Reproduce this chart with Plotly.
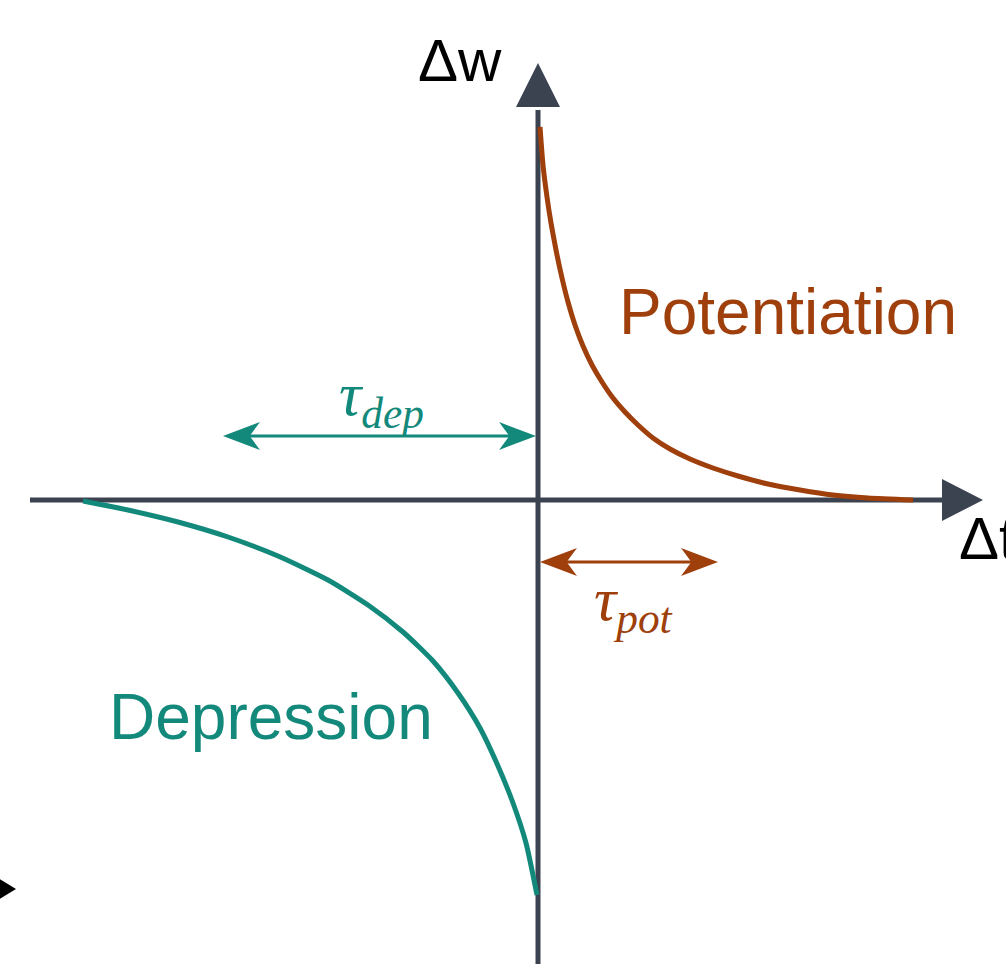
import plotly.graph_objects as go

# === STDP window (1 unit = 100 px, origin where the axes cross) ===
pot_t = [0.02, 0.05, 0.09, 0.13, 0.18, 0.24, 0.30, 0.37, 0.45, 0.54, 0.64, 0.75, 0.87, 1.00, 1.15, 1.32, 1.52, 1.75, 2.00, 2.30, 2.62, 2.95, 3.30, 3.75]
pot_w = [3.73, 3.35, 3.03, 2.77, 2.50, 2.22, 1.98, 1.75, 1.54, 1.35, 1.18, 1.02, 0.88, 0.75, 0.62, 0.51, 0.41, 0.32, 0.24, 0.16, 0.10, 0.05, 0.02, 0.00]

dep_t = [-4.55, -4.10, -3.60, -3.10, -2.60, -2.10, -1.70, -1.35, -1.05, -0.80, -0.58, -0.40, -0.25, -0.12, -0.01]
dep_w = [-0.01, -0.10, -0.22, -0.37, -0.56, -0.80, -1.05, -1.32, -1.61, -1.93, -2.28, -2.66, -3.03, -3.43, -3.95]

tau_dep = 3.15
tau_pot = 1.80

POT = "#9e3f0c"
DEP = "#13897b"
AXIS = "#3c4350"

X_RANGE = [-5.38, 4.68]
Y_RANGE = [-4.64, 5.0]


def head(x_tip, y, direction, color, L=0.37, h=0.14):
    # stealth-like arrow head pointing left (-1) or right (+1)
    b = x_tip - direction * L
    n = x_tip - direction * 0.72 * L
    return dict(type="path", xref="x", yref="y", line=dict(width=0), fillcolor=color,
                path=f"M {x_tip},{y} L {b},{y + h} L {n},{y} L {b},{y - h} Z")


fig = go.Figure()

fig.add_trace(go.Scatter(x=pot_t, y=pot_w, mode="lines", line=dict(color=POT, width=5, shape="spline", smoothing=0.6),
                         hoverinfo="skip"))
fig.add_trace(go.Scatter(x=dep_t, y=dep_w, mode="lines", line=dict(color=DEP, width=5, shape="spline", smoothing=0.6),
                         hoverinfo="skip"))

shapes = [
    # axes
    dict(type="line", xref="x", yref="y", x0=-5.08, y0=0, x1=4.1, y1=0, line=dict(color=AXIS, width=5), layer="below"),
    dict(type="line", xref="x", yref="y", x0=0, y0=Y_RANGE[0], x1=0, y1=3.9, line=dict(color=AXIS, width=5), layer="below"),
    dict(type="path", xref="x", yref="y", line=dict(width=0), fillcolor=AXIS,
         path="M 4.45,0 L 4.04,0.21 L 4.04,-0.21 Z"),
    dict(type="path", xref="x", yref="y", line=dict(width=0), fillcolor=AXIS,
         path="M 0,4.37 L -0.22,3.93 L 0.22,3.93 Z"),
    # stray arrow tip at the left edge
    dict(type="path", xref="x", yref="y", line=dict(width=0), fillcolor="black",
         path="M -5.22,-3.89 L -5.40,-3.78 L -5.40,-4.00 Z"),
    # tau arrows
    dict(type="line", xref="x", yref="y", x0=-tau_dep + 0.2, y0=0.64, x1=-0.2, y1=0.64, line=dict(color=DEP, width=3)),
    dict(type="line", xref="x", yref="y", x0=0.2, y0=-0.62, x1=tau_pot - 0.2, y1=-0.62, line=dict(color=POT, width=3)),
    head(-tau_dep, 0.64, -1, DEP),
    head(-0.02, 0.64, 1, DEP),
    head(0.02, -0.62, -1, POT),
    head(tau_pot, -0.62, 1, POT),
]

sans = "Liberation Sans, Arial, sans-serif"
serif = "Liberation Serif, DejaVu Serif, serif"
annotations = [
    dict(x=2.5, y=1.88, text="Potentiation", font=dict(family=sans, size=64, color=POT)),
    dict(x=-2.67, y=-2.17, text="Depression", font=dict(family=sans, size=64, color=DEP)),
    dict(x=-0.78, y=4.40, text="Δw", font=dict(family=sans, size=60, color="black")),
    dict(x=4.19, y=-0.38, text="Δt", xanchor="left", font=dict(family=sans, size=60, color="black")),
    dict(x=-1.57, y=1.02, text="<i>τ<sub>dep</sub></i>", font=dict(family=serif, size=62, color=DEP)),
    dict(x=0.95, y=-1.03, text="<i>τ<sub>pot</sub></i>", font=dict(family=serif, size=62, color=POT)),
]
for a in annotations:
    a.update(xref="x", yref="y", showarrow=False)
    a.setdefault("xanchor", "center")
    a.setdefault("yanchor", "middle")

fig.update_layout(
    width=1006, height=964,
    margin=dict(l=0, r=0, t=0, b=0),
    paper_bgcolor="white", plot_bgcolor="white",
    showlegend=False,
    xaxis=dict(range=X_RANGE, visible=False, fixedrange=True),
    yaxis=dict(range=Y_RANGE, visible=False, fixedrange=True),
    shapes=shapes,
    annotations=annotations,
)

fig.write_html("out.html", config=dict(displayModeBar=False),
               post_script="document.body.style.margin='0';document.body.style.overflow='hidden';")
